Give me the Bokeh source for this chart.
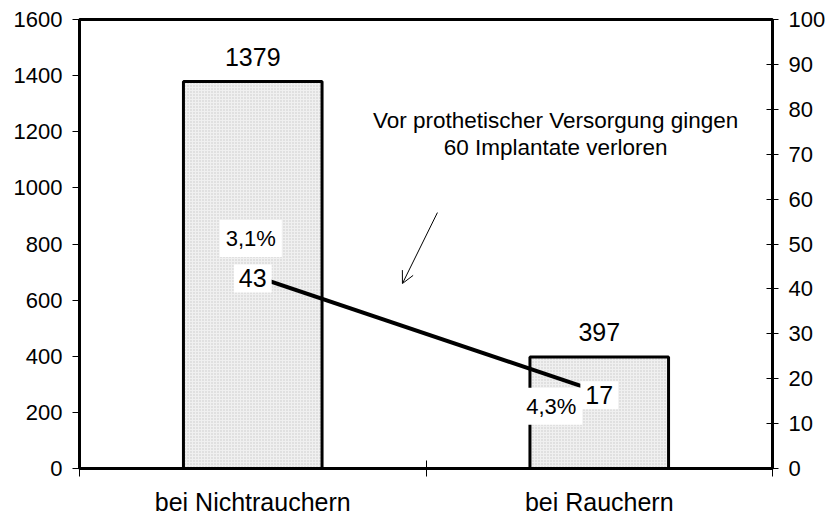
from bokeh.plotting import figure
from bokeh.models import (Range1d, LinearAxis, CategoricalAxis, FixedTicker,
                          Arrow, OpenHead)
from bokeh.core.properties import value
from bokeh.embed import file_html
from bokeh.resources import INLINE

# ---- data ----
categories = ["bei Nichtrauchern", "bei Rauchern"]
implants = [1379, 397]          # bars, left axis
lost = [43, 17]                 # line, right axis
lost_pct = ["3,1%", "4,3%"]
left_ticks = [0, 200, 400, 600, 800, 1000, 1200, 1400, 1600]
right_ticks = [0, 10, 20, 30, 40, 50, 60, 70, 80, 90, 100]
note_lines = ["Vor prothetischer Versorgung gingen", "60 Implantate verloren"]

# ---- annotation placement (styling) ----
note_x = 1.374
note_y = [77.5, 71.5]
arrow_start = (1.033, 57.0)
arrow_end = (0.932, 41.2)

FONT = "Liberation Sans"

p = figure(width=830, height=519, x_range=categories, y_range=Range1d(0, 1600),
           x_axis_location=None, y_axis_location="left",
           output_backend="svg", toolbar_location=None,
           min_border_left=79, min_border_right=58, min_border_top=19,
           min_border_bottom=51)
p.extra_y_ranges = {"right": Range1d(0, 100)}
p.xgrid.visible = False
p.ygrid.visible = False
p.outline_line_color = "black"
p.outline_line_width = 3
p.background_fill_color = "white"
p.border_fill_color = "white"

# left axis
ya = p.yaxis[0]
ya.ticker = FixedTicker(ticks=left_ticks)
ya.major_tick_in = 0
ya.major_tick_out = 7
ya.minor_tick_line_color = None
ya.axis_line_width = 3
ya.major_tick_line_width = 1
ya.major_label_standoff = 10
ya.major_label_text_font = FONT
ya.major_label_text_font_size = "22px"
ya.major_label_text_color = "black"

# right axis
ra = LinearAxis(y_range_name="right", ticker=FixedTicker(ticks=right_ticks),
                major_tick_in=6, major_tick_out=6, minor_tick_line_color=None,
                axis_line_width=3, major_tick_line_width=1,
                major_label_standoff=10, major_label_text_font=FONT,
                major_label_text_font_size="22px", major_label_text_color="black")
p.add_layout(ra, "right")

# bottom: tick marks between categories
bounds = list(range(len(categories) + 1))
ta = LinearAxis(ticker=FixedTicker(ticks=bounds),
                major_tick_in=8, major_tick_out=8, minor_tick_line_color=None,
                axis_line_width=3, major_tick_line_width=1,
                major_label_text_font_size="0px", major_label_standoff=0,
                major_label_overrides={b: "" for b in bounds})
p.add_layout(ta, "below")

ca = CategoricalAxis(major_tick_in=0, major_tick_out=0, axis_line_color=None,
                     major_tick_line_color=None, major_label_standoff=11,
                     major_label_text_font=FONT, major_label_text_font_size="25px",
                     major_label_text_color="black")
p.add_layout(ca, "below")

# bars
p.vbar(x=categories, top=implants, width=0.4, fill_color="#f0f0f0",
       hatch_pattern="dot", hatch_color="#c8c8c8", hatch_scale=3,
       line_color="black", line_width=3)
p.text(x=categories, y=implants, text=[str(v) for v in implants],
       text_align="center", text_baseline="middle", y_offset=-25,
       text_font=value(FONT), text_font_size="25px", text_color="black")

# line
p.line(x=categories, y=lost, y_range_name="right", line_width=4, line_color="black")

p.text(x=categories, y=lost, text=lost_pct, y_range_name="right",
       x_offset=[-2, -48], y_offset=[-37, 14],
       text_align="center", text_baseline="middle",
       text_font=value(FONT), text_font_size="22px", text_color="black",
       background_fill_color="white", padding=6)
p.text(x=categories, y=lost, text=[str(v) for v in lost], y_range_name="right",
       y_offset=3, text_align="center", text_baseline="middle",
       text_font=value(FONT), text_font_size="25px", text_color="black",
       background_fill_color="white", padding=5)

# note
p.text(x=[note_x] * len(note_lines), y=note_y, text=note_lines, y_range_name="right",
       text_align="center", text_baseline="middle",
       text_font=value(FONT), text_font_size="22.5px", text_color="black")
p.add_layout(Arrow(end=OpenHead(size=12, line_width=1, line_color="black"),
                   x_start=arrow_start[0], y_start=arrow_start[1],
                   x_end=arrow_end[0], y_end=arrow_end[1],
                   y_range_name="right", line_width=1, line_color="black"))

open("out.html", "w").write(file_html(p, INLINE))
